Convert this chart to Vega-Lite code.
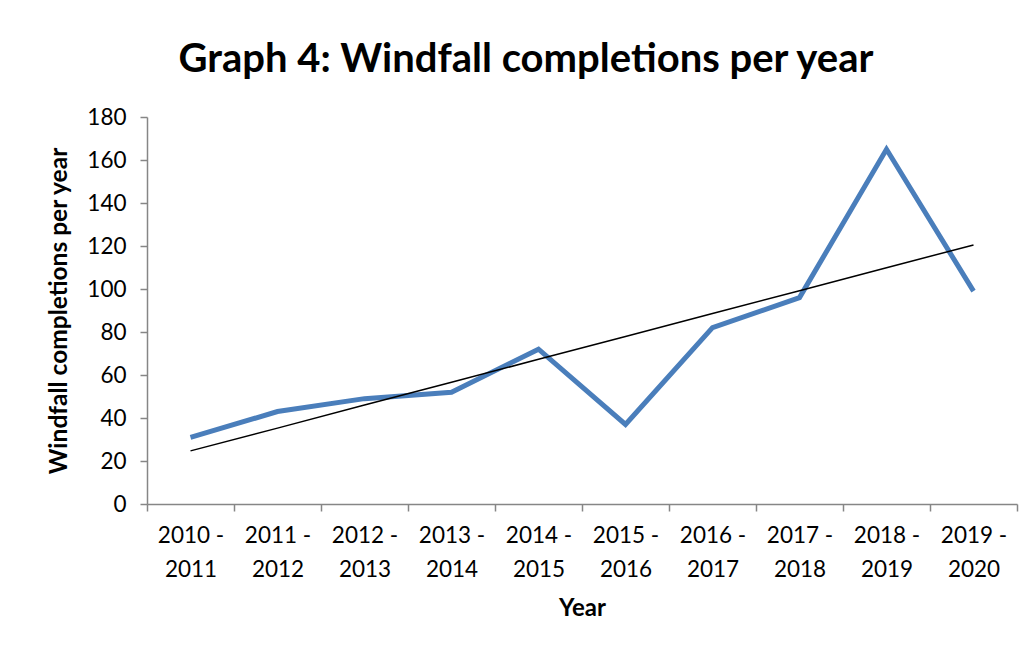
{
  "$schema": "https://vega.github.io/schema/vega-lite/v6.json",
  "width": 870,
  "height": 387,
  "autosize": {"type": "none"},
  "padding": {"left": 147, "top": 117, "right": 13, "bottom": 146},
  "background": "white",
  "title": {
    "text": "Graph 4: Windfall completions per year",
    "font": "Lato",
    "fontSize": 40,
    "fontWeight": "bold",
    "color": "#000000",
    "anchor": "middle",
    "dx": -56,
    "offset": 26
  },
  "config": {
    "view": {"stroke": null},
    "axis": {
      "labelFont": "Lato",
      "titleFont": "Lato",
      "labelColor": "#000000",
      "titleColor": "#000000",
      "domainColor": "#868686",
      "tickColor": "#868686",
      "domainWidth": 1.5,
      "tickWidth": 1.5,
      "grid": false
    }
  },
  "data": {
    "values": [
      {"year": "2010 - 2011", "completions": 31, "trend": 24.7},
      {"year": "2011 - 2012", "completions": 43, "trend": 35.3},
      {"year": "2012 - 2013", "completions": 49, "trend": 46.0},
      {"year": "2013 - 2014", "completions": 52, "trend": 56.6},
      {"year": "2014 - 2015", "completions": 72, "trend": 67.3},
      {"year": "2015 - 2016", "completions": 37, "trend": 77.9},
      {"year": "2016 - 2017", "completions": 82, "trend": 88.6},
      {"year": "2017 - 2018", "completions": 96, "trend": 99.2},
      {"year": "2018 - 2019", "completions": 165, "trend": 109.9},
      {"year": "2019 - 2020", "completions": 99, "trend": 120.5}
    ]
  },
  "encoding": {
    "x": {
      "field": "year",
      "type": "ordinal",
      "sort": null,
      "bandPosition": 0.5,
      "scale": {"type": "band", "paddingInner": 0, "paddingOuter": 0},
      "axis": {
        "title": "Year",
        "titleFontSize": 24,
        "titleFontWeight": "bold",
        "titlePadding": 16,
        "labelFontSize": 22.5,
        "labelAngle": 0,
        "labelPadding": 13,
        "labelLineHeight": 34,
        "labelExpr": "[substring(datum.label, 0, 6), substring(datum.label, 7)]",
        "tickBand": "extent",
        "tickSize": 7
      }
    }
  },
  "layer": [
    {
      "mark": {"type": "line", "color": "#4A7EBB", "strokeWidth": 5, "strokeJoin": "miter"},
      "encoding": {
        "y": {
          "field": "completions",
          "type": "quantitative",
          "scale": {"domain": [0, 180]},
          "axis": {
            "title": "Windfall completions per year",
            "titleFontSize": 24.5,
            "titleFontWeight": "bold",
            "titlePadding": 15,
            "labelFontSize": 22.5,
            "labelPadding": 14,
            "values": [0, 20, 40, 60, 80, 100, 120, 140, 160, 180],
            "tickSize": 7
          }
        }
      }
    },
    {
      "mark": {"type": "line", "color": "#000000", "strokeWidth": 1.5},
      "encoding": {
        "y": {"field": "trend", "type": "quantitative"}
      }
    }
  ]
}
